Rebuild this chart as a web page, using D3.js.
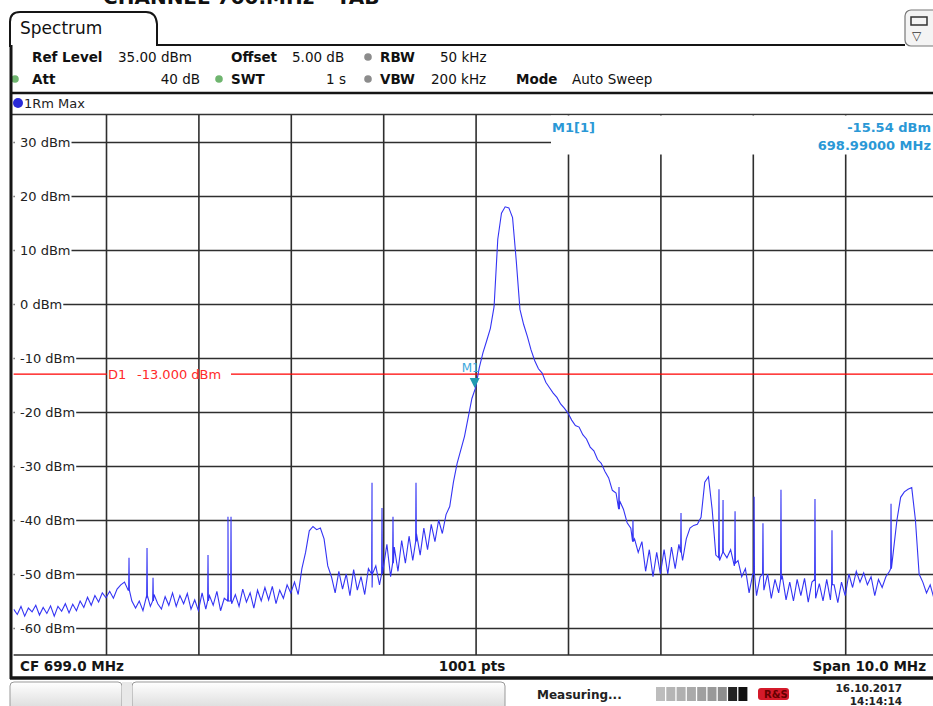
<!DOCTYPE html>
<html><head><meta charset="utf-8">
<script src="https://cdn.jsdelivr.net/npm/d3@7/dist/d3.min.js"></script>
<style>body{margin:0;background:#fff}svg{display:block;font-family:'DejaVu Sans',sans-serif}</style>
</head><body><svg id="c" width="933" height="706"></svg>
<script>
// ---------- data ----------
const freqStart = 694.0;          // CF 699.0 MHz - Span/2
const freqStep = 0.04;            // sweep point spacing (MHz)
const traceLevels = [
 -56.5,-57.5,-56.0,-57.8,-56.3,-57.0,-55.8,-57.6,-56.2,-57.3,
 -55.9,-57.8,-56.0,-56.9,-55.5,-57.2,-55.6,-56.8,-55.0,-56.2,
 -54.3,-55.8,-54.0,-55.2,-53.5,-54.4,
 -53.2,-54.5,-52.8,-52.0,-51.5,-53.0,-55.0,-56.3,-55.0,-56.8,-54.5,-56.0,-53.8,-55.5,-56.5,-54.2,-55.8,-53.5,-56.0,-54.0,-55.5,-53.6,-56.5,-54.8,-56.8,
 -53.5,-56.5,-54.0,-55.8,-53.2,-56.8,-54.5,-53.0,-55.5,-53.8,-56.0,-52.8,-55.2,-53.5,-56.3,-53.0,-55.0,-52.5,-54.8,-52.3,-55.5,-53.0,-54.5,-52.0,-53.5,
 -51.5,-53.8,-49.0,-46.0,-42.0,-41.2,-41.8,-41.5,-43.5,-48.5,-50.5,-53.5,-49.5,-52.8,-50.0,-54.0,-49.2,-53.0,-50.5,-53.8,-49.0,-52.5,-48.5,-52.0,-49.0,
 -44.5,-50.5,-45.0,-49.5,-43.8,-48.0,-43.0,-47.5,-42.5,-46.5,-41.5,-45.5,-40.8,-44.0,-40.0,-42.5,-39.0,-37.5,-33.0,-29.5,-27.0,-24.5,-21.0,-17.5,-15.5,
 -11.8,-9.0,-6.8,-4.5,-0.5,12.0,16.8,18.0,17.8,16.0,8.0,-1.0,-3.8,-6.0,-8.5,-10.5,-12.0,-12.8,-14.5,-15.5,-16.5,-17.3,-18.5,-19.3,-20.2,
 -21.5,-22.5,-22.8,-24.2,-25.0,-26.5,-27.2,-28.8,-29.5,-31.0,-32.2,-34.5,-35.0,-36.5,-38.0,-40.5,-41.5,-43.5,-46.0,-44.0,-49.5,-45.5,-50.5,-46.0,-50.0,
 -45.5,-50.0,-45.0,-49.0,-44.5,-47.5,-43.5,-41.5,-41.0,-40.8,-39.5,-33.0,-32.0,-38.0,-46.5,-47.5,-45.0,-47.0,-45.5,-48.5,-47.5,-50.5,-49.0,-53.5,-50.0,
 -54.0,-50.5,-53.0,-50.0,-54.5,-51.0,-53.5,-50.5,-54.8,-51.5,-55.0,-51.0,-54.0,-50.8,-55.2,-51.5,-54.5,-51.8,-55.0,-51.0,-54.8,-52.0,-55.3,-51.5,-54.0,
 -50.0,-52.5,-49.5,-51.5,-49.8,-52.0,-50.5,-54.0,-51.0,-52.5,-50.5,-49.5,-46.0,-40.0,-35.8,-34.8,-34.3,-34.0,-40.0,-50.0,-51.5,-53.5,-52.0,-54.5,-53.0
];
const spurFreqs = [695.249,695.444,695.509,696.104,696.320,696.353,697.879,697.987,698.106,698.355,
                   700.552,700.703,701.223,701.634,701.678,701.808,702.014,702.110,702.305,702.673,702.857,703.496];
const spurTops  = [-47.0,-45.2,-50.7,-46.5,-39.4,-39.4,-33.1,-37.8,-39.4,-33.1,
                   -33.9,-40.0,-38.7,-34.3,-36.3,-38.4,-35.7,-40.6,-34.4,-36.1,-41.9,-37.0];
const spurBases = [-53.0,-54.0,-55.0,-55.0,-55.0,-55.0,-50.0,-50.0,-48.0,-44.0,
                   -38.0,-44.0,-46.0,-47.0,-46.0,-48.0,-50.0,-50.0,-51.0,-51.0,-52.0,-49.0];
const gridFreqs = [695,696,697,698,699,700,701,702,703,704];
const levelTicks = [30,20,10,0,-10,-20,-30,-40,-50,-60];
const levelTickLabels = ["30 dBm","20 dBm","10 dBm","0 dBm","-10 dBm","-20 dBm","-30 dBm","-40 dBm","-50 dBm","-60 dBm"];
const displayLineLevel = -13.0;
const markerFreqs = [698.99];
const markerLevels = [-15.54];

// ---------- layout ----------
const svg = d3.select("#c");
const L = 13.6, R = 937.6, T = 115, B = 655;
const x = d3.scaleLinear().domain([694, 704]).range([L, R]);
const y = d3.scaleLinear().domain([-65, 35]).range([B, T]);
const ink = "#151515";

// cut-off title at very top
svg.append("text").attr("x",103).attr("y",4).attr("font-size",20).attr("font-weight","bold")
  .attr("fill","#111").text("CHANNEL 700.MHz - TAB");

// tab
svg.append("path").attr("d","M10,47 V22 Q10,12 20,12 H146 Q156,12 157,24 V45 H905")
  .attr("fill","none").attr("stroke",ink).attr("stroke-width",2);
svg.append("text").attr("x",20).attr("y",34).attr("font-size",17).attr("fill","#111").text("Spectrum");
// icon top right
svg.append("rect").attr("x",905).attr("y",10).attr("width",34).attr("height",36).attr("rx",6)
  .attr("fill","#f4f4f4").attr("stroke","#777").attr("stroke-width",1.2);
svg.append("rect").attr("x",911).attr("y",17).attr("width",16).attr("height",8).attr("fill","none").attr("stroke","#333").attr("stroke-width",1.5);
svg.append("text").attr("x",912).attr("y",40).attr("font-size",12).attr("fill","#333").text("\u25BD");

// header info rows
const hdr = svg.append("g").attr("font-size",13.5).attr("fill","#111");
function t(xp, yp, s, bold, anchor){
  hdr.append("text").attr("x",xp).attr("y",yp).attr("font-weight",bold?"bold":"normal")
    .attr("text-anchor",anchor||"start").text(s);
}
t(32,62,"Ref Level",true); t(118,62,"35.00 dBm"); t(231,62,"Offset",true); t(292,62,"5.00 dB");
t(380,62,"RBW",true); t(440,62,"50 kHz");
t(32,84,"Att",true); t(200,84,"40 dB",false,"end"); t(231,84,"SWT",true); t(346,84,"1 s",false,"end");
t(380,84,"VBW",true); t(431,84,"200 kHz"); t(516,84,"Mode",true); t(572,84,"Auto Sweep");
[[368,57,"#8c8c8c"],[15,79,"#6fb56f"],[219,79,"#6fb56f"],[368,79,"#8c8c8c"]].forEach(d=>{
  svg.append("circle").attr("cx",d[0]).attr("cy",d[1]).attr("r",3.8).attr("fill",d[2]);
});

// diagram frame
svg.append("line").attr("x1",10).attr("x2",933).attr("y1",93).attr("y2",93).attr("stroke",ink).attr("stroke-width",2.5);
svg.append("line").attr("x1",10).attr("x2",933).attr("y1",114.5).attr("y2",114.5).attr("stroke","#333").attr("stroke-width",1.5);
svg.append("circle").attr("cx",18).attr("cy",103).attr("r",5).attr("fill","#2a2ad8");
svg.append("text").attr("x",24).attr("y",108).attr("font-size",13).attr("fill","#222").text("1Rm Max");

// grid via axes
const gv = svg.append("g").attr("transform",`translate(0,${T})`)
  .call(d3.axisTop(x).tickValues(gridFreqs).tickSize(-(B-T)).tickFormat(""));
const gh = svg.append("g").attr("transform",`translate(${L},0)`)
  .call(d3.axisLeft(y).tickValues(levelTicks).tickSize(-(R-L)).tickFormat(""));
[gv,gh].forEach(g=>{
  g.select(".domain").remove();
  g.selectAll(".tick line").attr("stroke","#2e2e2e").attr("stroke-width",1.6);
});
svg.append("line").attr("x1",L).attr("x2",933).attr("y1",B).attr("y2",B).attr("stroke","#2e2e2e").attr("stroke-width",1.6);

// marker info box hides grid in the top right
svg.append("rect").attr("x",551).attr("y",115.5).attr("width",390).attr("height",39).attr("fill","#fff");

// level labels
const lab = svg.append("g");
levelTicks.forEach((v,i)=>{
  const tx = lab.append("text").attr("x",20).attr("y",y(v)+5).attr("font-size",13).attr("fill","#222").text(levelTickLabels[i]);
  const w = tx.node().getComputedTextLength();
  lab.insert("rect","text").attr("x",L+1).attr("y",y(v)-8).attr("width",20+w-L).attr("height",16).attr("fill","#fff");
});

// display line D1
const yD = y(displayLineLevel);
svg.append("line").attr("x1",L).attr("x2",107).attr("y1",yD).attr("y2",yD).attr("stroke","#ff0000").attr("stroke-width",1.2);
svg.append("line").attr("x1",231).attr("x2",937).attr("y1",yD).attr("y2",yD).attr("stroke","#ff0000").attr("stroke-width",1.2);
svg.append("text").attr("x",108).attr("y",yD+5).attr("font-size",13).attr("fill","#ff2a2a").text("D1");
svg.append("text").attr("x",137).attr("y",yD+5).attr("font-size",13).attr("fill","#ff2a2a").text("-13.000 dBm");

// trace
const pts = traceLevels.map((v,i)=>({f: freqStart + i*freqStep, v}));
spurFreqs.forEach((f,i)=>{
  pts.push({f: f-0.004, v: spurBases[i]});
  pts.push({f: f, v: spurTops[i]});
  pts.push({f: f+0.004, v: spurBases[i]});
});
pts.sort((a,b)=>a.f-b.f);
svg.append("clipPath").attr("id","pc").append("rect").attr("x",L).attr("y",T).attr("width",933-L).attr("height",B-T);
svg.append("path").attr("clip-path","url(#pc)").datum(pts)
  .attr("d", d3.line().x(d=>x(d.f)).y(d=>y(d.v)))
  .attr("fill","none").attr("stroke","#3434f4").attr("stroke-width",1.1);

// marker
markerFreqs.forEach((f,i)=>{
  const mx = x(f), my = y(markerLevels[i]);
  svg.append("path").attr("d",`M${mx-5},${my-10} L${mx+5},${my-10} L${mx},${my} Z`).attr("fill","#1f9bb0");
  svg.append("text").attr("x",mx-13).attr("y",my-16).attr("font-size",12).attr("fill","#3aa6dc").text("M1");
});
const mi = svg.append("g").attr("font-size",13).attr("font-weight","bold").attr("fill","#2a98d6");
mi.append("text").attr("x",552).attr("y",132).text("M1[1]");
mi.append("text").attr("x",931).attr("y",132).attr("text-anchor","end").text(markerLevels[0].toFixed(2)+" dBm");
mi.append("text").attr("x",931).attr("y",150).attr("text-anchor","end").text(markerFreqs[0].toFixed(5)+" MHz");

// bottom annotation
const bt = svg.append("g").attr("font-size",13.5).attr("font-weight","bold").attr("fill","#151515");
bt.append("text").attr("x",20).attr("y",671).text("CF 699.0 MHz");
bt.append("text").attr("x",472).attr("y",671).attr("text-anchor","middle").text("1001 pts");
bt.append("text").attr("x",926).attr("y",671).attr("text-anchor","end").text("Span 10.0 MHz");

// frame lines
svg.append("line").attr("x1",11).attr("x2",11).attr("y1",45).attr("y2",679).attr("stroke",ink).attr("stroke-width",3);
svg.append("line").attr("x1",10).attr("x2",933).attr("y1",678).attr("y2",678).attr("stroke",ink).attr("stroke-width",3.5);

// status bar
const defs = svg.append("defs");
const gr = defs.append("linearGradient").attr("id","sb").attr("x1",0).attr("x2",0).attr("y1",0).attr("y2",1);
gr.append("stop").attr("offset",0).attr("stop-color","#ffffff");
gr.append("stop").attr("offset",1).attr("stop-color","#d8d8d8");
svg.append("rect").attr("x",10).attr("y",682).attr("width",112).attr("height",30).attr("rx",4).attr("fill","url(#sb)").attr("stroke","#999");
svg.append("rect").attr("x",132).attr("y",682).attr("width",373).attr("height",30).attr("rx",4).attr("fill","url(#sb)").attr("stroke","#999");
svg.append("rect").attr("x",122).attr("y",682).attr("width",10).attr("height",30).attr("fill","#e8e8e8");
svg.append("text").attr("x",537).attr("y",699).attr("font-size",12).attr("font-weight","bold").attr("fill","#222").text("Measuring...");
const blocks = ["#bdbdbd","#b5b5b5","#b0b0b0","#aaaaaa","#a0a0a0","#999","#8e8e8e","#222","#111"];
blocks.forEach((c,i)=>{
  svg.append("rect").attr("x",656+i*10.3).attr("y",687).attr("width",9).attr("height",14).attr("fill",c);
});
svg.append("rect").attr("x",758).attr("y",688).attr("width",31).attr("height",12).attr("rx",3).attr("fill","#d41a2a");
svg.append("text").attr("x",764).attr("y",698).attr("font-size",10).attr("font-weight","bold").attr("fill","#600").text("R&S");
svg.append("text").attr("x",902).attr("y",692).attr("text-anchor","end").attr("font-size",10.5).attr("font-weight","bold").attr("fill","#222").text("16.10.2017");
svg.append("text").attr("x",902).attr("y",705).attr("text-anchor","end").attr("font-size",10.5).attr("font-weight","bold").attr("fill","#222").text("14:14:14");
</script></body></html>
